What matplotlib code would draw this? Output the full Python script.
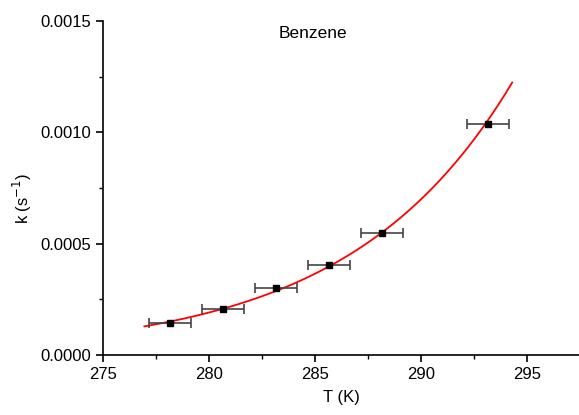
import numpy as np
import matplotlib.pyplot as plt
from matplotlib.ticker import MultipleLocator

plt.rcParams['font.family'] = ['Liberation Sans', 'DejaVu Sans']

# data
T = [278.15, 280.65, 283.15, 285.65, 288.15, 293.15]
k = [0.000145, 0.000206, 0.000300, 0.000402, 0.000546, 0.001037]
T_err = [1.0, 1.0, 1.0, 1.0, 1.0, 1.0]

# exponential fit (ln k linear in T)
b, a = np.polyfit(T, np.log(k), 1)
T_fit = np.linspace(276.95, 294.3, 200)
k_fit = np.exp(a + b * T_fit)

fig = plt.figure(figsize=(5.79, 4.15), dpi=100)
ax = fig.add_axes([0.178, 0.145, 0.822, 0.804])

ax.plot(T_fit, k_fit, color='red', linewidth=1.3, zorder=2)
ax.errorbar(T, k, xerr=T_err, fmt='s', color='black', ecolor='#444444',
            markersize=5, elinewidth=1.2, capsize=3.5, capthick=1.2, zorder=3)

ax.set_xlim(275, 297.45)
ax.set_ylim(0, 0.0015)
ax.xaxis.set_major_locator(MultipleLocator(5))
ax.xaxis.set_minor_locator(MultipleLocator(2.5))
ax.yaxis.set_major_locator(MultipleLocator(0.0005))
ax.yaxis.set_minor_locator(MultipleLocator(0.00025))
ax.yaxis.set_major_formatter(plt.FormatStrFormatter('%.4f'))

for s in ['top', 'right']:
    ax.spines[s].set_visible(False)
for s in ['left', 'bottom']:
    ax.spines[s].set_linewidth(1.2)
ax.tick_params(which='major', direction='out', length=5, width=1.2, labelsize=12)
ax.tick_params(which='minor', direction='out', length=3, width=1.0)

ax.set_xlabel('T (K)', fontsize=12, labelpad=6)
ax.set_ylabel('k (s$^{-1}$)', fontsize=12, labelpad=4)
ax.yaxis.set_label_coords(-0.145, 0.47)
ax.text(0.44, 0.964, 'Benzene', transform=ax.transAxes, ha='center', va='center', fontsize=12.5)

fig.savefig('out.png', dpi=100)
